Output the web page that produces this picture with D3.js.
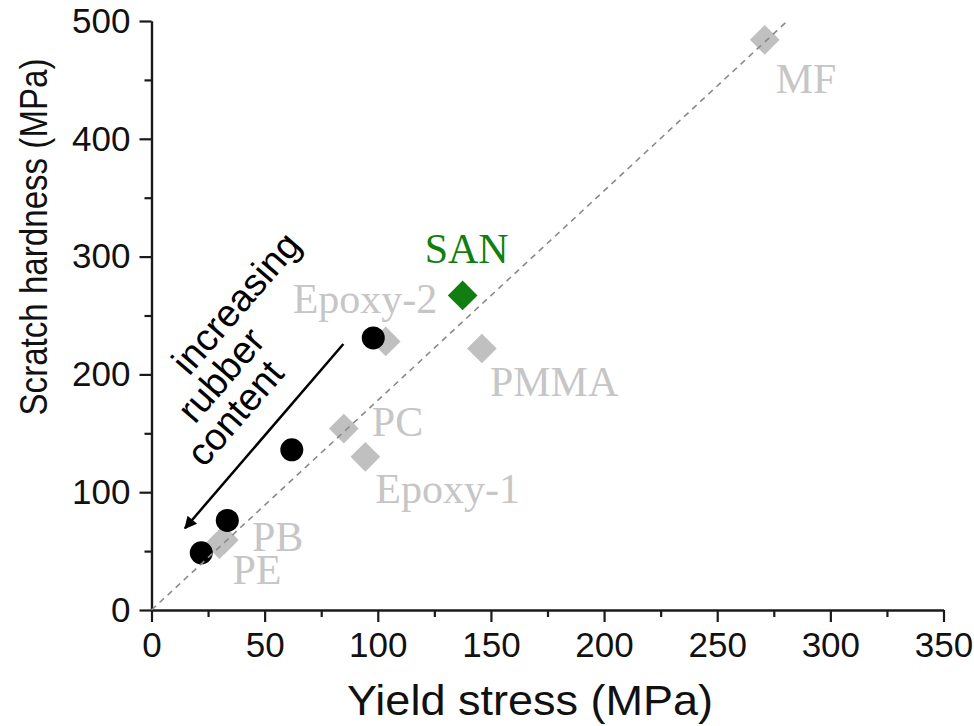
<!DOCTYPE html>
<html>
<head>
<meta charset="utf-8">
<script src="https://cdn.jsdelivr.net/npm/d3@7"></script>
<style>
  html, body { margin: 0; padding: 0; background: #fff; }
  svg { display: block; }
</style>
</head>
<body>
<svg id="chart" width="974" height="726"></svg>
<script>
// ---------------- data ----------------
const materials       = ["MF", "SAN", "PMMA", "Epoxy-2", "PC", "Epoxy-1", "PB", "PE"];
const yieldStress     = [271, 137.5, 146, 103.5, 85, 94.5, 32, 30];
const scratchHardness = [484, 267, 222, 228, 154, 130, 59.5, 56];
const rubberYield     = [98, 62, 33.5, 22];
const rubberHardness  = [231, 136, 76, 48.5];
const xTicks = [0, 50, 100, 150, 200, 250, 300, 350];
const yTicks = [0, 100, 200, 300, 400, 500];
const fitLine = [[0, 0], [281, 500]];
const annotationLines = ["increasing", "rubber", "content"];
const arrowData = [[84.8, 225.8], [14.8, 69.4]];

// ---------------- layout / style ----------------
const W = 974, H = 726;
const m = { left: 151.5, top: 21, right: 30.5, bottom: 116 };
const iw = W - m.left - m.right, ih = H - m.top - m.bottom;
const gray = "#c6c6c6", green = "#107f10";
const labelOffsets = {
  "MF": [11, 53], "SAN": [-38, -32], "PMMA": [8, 48], "Epoxy-2": [-93, -28],
  "PC": [28, 7], "Epoxy-1": [10, 46], "PB": [28, 11], "PE": [13, 40]
};
const annotationPos = [[37.3, 260.6], [30.7, 199.5], [36.9, 167.2]];

const svg = d3.select("#chart");
const g = svg.append("g").attr("transform", `translate(${m.left},${m.top})`);

const x = d3.scaleLinear().domain([0, 350]).range([0, iw]);
const y = d3.scaleLinear().domain([0, 500]).range([ih, 0]);

// axes
const xAxis = d3.axisBottom(x).tickValues(xTicks).tickSize(12).tickSizeOuter(0).tickPadding(10).tickFormat(d3.format("d"));
const yAxis = d3.axisLeft(y).tickValues(yTicks).tickSize(12).tickSizeOuter(0).tickPadding(9).tickFormat(d3.format("d"));
const xMinor = d3.axisBottom(x).tickValues(d3.range(25, 350, 50)).tickSize(7).tickSizeOuter(0).tickFormat("");
const yMinor = d3.axisLeft(y).tickValues(d3.range(50, 500, 100)).tickSize(7).tickSizeOuter(0).tickFormat("");

function styleAxis(sel) {
  sel.select(".domain").attr("stroke", "#1a1a1a").attr("stroke-width", 2.2);
  sel.selectAll(".tick line").attr("stroke", "#1a1a1a").attr("stroke-width", 2.2);
  sel.selectAll(".tick text").attr("fill", "#111")
    .style("font-family", "'Liberation Sans', Arial, sans-serif").style("font-size", "35px");
}
g.append("g").attr("transform", `translate(0,${ih})`).call(xMinor).call(styleAxis);
g.append("g").call(yMinor).call(styleAxis);
g.append("g").attr("transform", `translate(0,${ih})`).call(xAxis).call(styleAxis);
g.append("g").call(yAxis).call(styleAxis);

// axis titles
svg.append("text")
  .attr("x", 530).attr("y", 715)
  .attr("text-anchor", "middle")
  .attr("textLength", 366).attr("lengthAdjust", "spacingAndGlyphs")
  .style("font-family", "'Liberation Sans', Arial, sans-serif").style("font-size", "43px")
  .attr("fill", "#111")
  .text("Yield stress (MPa)");
svg.append("text")
  .attr("transform", "translate(47,237) rotate(-90)")
  .attr("text-anchor", "middle")
  .attr("textLength", 357).attr("lengthAdjust", "spacingAndGlyphs")
  .style("font-family", "'Liberation Sans', Arial, sans-serif").style("font-size", "38px")
  .attr("fill", "#111")
  .text("Scratch hardness (MPa)");

// reference materials (diamonds)
const diamond = d3.symbol().type(d3.symbolSquare).size(21 * 21)();
const idx = d3.range(materials.length);
g.selectAll("path.ref").data(idx).join("path")
  .attr("class", "ref")
  .attr("d", diamond)
  .attr("transform", i => `translate(${x(yieldStress[i])},${y(scratchHardness[i])}) rotate(45)`)
  .attr("fill", i => materials[i] === "SAN" ? green : "#c0c0c0");

// rubber-toughened (black circles)
g.selectAll("circle.rub").data(d3.range(rubberYield.length)).join("circle")
  .attr("class", "rub")
  .attr("cx", i => x(rubberYield[i])).attr("cy", i => y(rubberHardness[i]))
  .attr("r", 11.5).attr("fill", "#000");

// dashed 1:1 line
g.append("line")
  .attr("x1", x(fitLine[0][0])).attr("y1", y(fitLine[0][1]))
  .attr("x2", x(fitLine[1][0])).attr("y2", y(fitLine[1][1]))
  .attr("stroke", "#8a8a8a").attr("stroke-width", 1.6).attr("stroke-dasharray", "6,5");

// labels
g.selectAll("text.lab").data(idx).join("text")
  .attr("class", "lab")
  .attr("x", i => x(yieldStress[i]) + labelOffsets[materials[i]][0])
  .attr("y", i => y(scratchHardness[i]) + labelOffsets[materials[i]][1])
  .style("font-family", "'Liberation Serif', 'Times New Roman', serif").style("font-size", "42px")
  .attr("fill", i => materials[i] === "SAN" ? green : gray)
  .text(i => materials[i]);

// arrow
svg.append("defs").append("marker")
  .attr("id", "ah").attr("viewBox", "0 0 10 10").attr("refX", 9).attr("refY", 5)
  .attr("markerWidth", 6.5).attr("markerHeight", 5).attr("orient", "auto")
  .attr("markerUnits", "strokeWidth")
  .append("path").attr("d", "M0,0 L10,5 L0,10 Z").attr("fill", "#000");
g.append("line")
  .attr("x1", x(arrowData[0][0])).attr("y1", y(arrowData[0][1]))
  .attr("x2", x(arrowData[1][0])).attr("y2", y(arrowData[1][1]))
  .attr("stroke", "#000").attr("stroke-width", 2.5).attr("marker-end", "url(#ah)");

// annotation text
g.selectAll("text.ann").data(annotationLines).join("text")
  .attr("class", "ann")
  .attr("transform", (d, i) => `translate(${x(annotationPos[i][0])},${y(annotationPos[i][1])}) rotate(-49)`)
  .attr("text-anchor", "middle").attr("dominant-baseline", "central")
  .style("font-family", "'Liberation Sans', Arial, sans-serif").style("font-size", "38px")
  .attr("fill", "#000")
  .text(d => d);
</script>
</body>
</html>
